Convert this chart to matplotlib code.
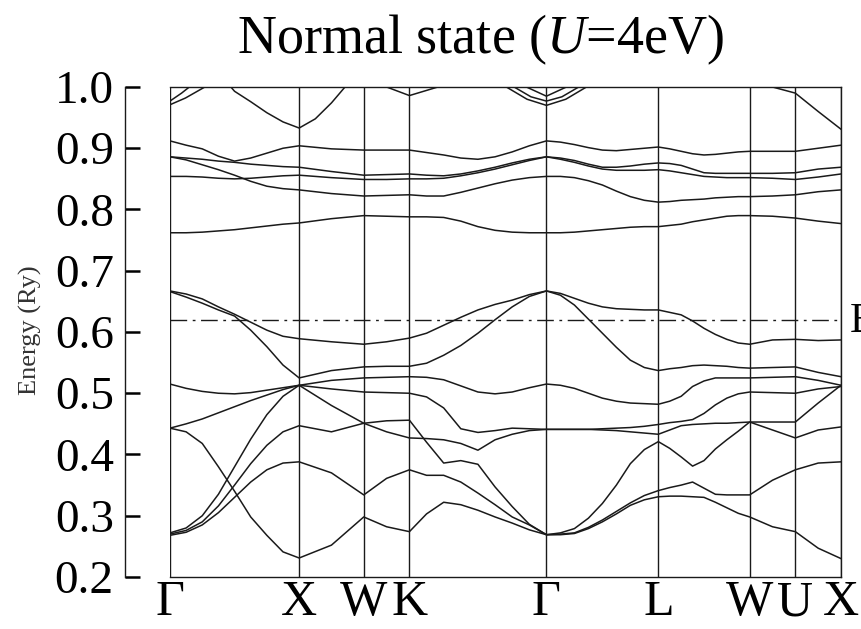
import numpy as np
import matplotlib.pyplot as plt

plt.rcParams['font.family'] = ['Liberation Serif', 'DejaVu Serif']
plt.rcParams['mathtext.fontset'] = 'custom'
plt.rcParams['mathtext.rm'] = 'Liberation Serif'
plt.rcParams['mathtext.it'] = 'Liberation Serif:italic'

# high-symmetry points along the fcc path
sym_k = [0.0, 1.0, 1.5, 1.8536, 2.9142, 3.7802, 4.4873, 4.8409, 5.1945]
sym_labels = ['Γ', 'X', 'W', 'K', 'Γ', 'L', 'W', 'U', 'X']
e_fermi = 0.62

kpath = [0.0, 0.125, 0.25, 0.375, 0.5, 0.625, 0.75, 0.875, 1.0,
         1.25, 1.5,
         1.6768, 1.8536,
         1.9862, 2.1188, 2.2514, 2.3839, 2.5165, 2.6491, 2.7817, 2.9142,
         3.0225, 3.1307, 3.2390, 3.3472, 3.4555, 3.5637, 3.6720, 3.7802,
         3.8686, 3.9570, 4.0454, 4.1338, 4.2221, 4.3105, 4.3989, 4.4873,
         4.6641, 4.8409,
         5.0177, 5.1945]

# band energies (Ry), one value per k point above
band_1 = [0.443, 0.437, 0.418, 0.380, 0.340, 0.298, 0.268, 0.241, 0.231,
          0.252, 0.298,
          0.282, 0.274,
          0.303, 0.322, 0.318, 0.309, 0.298, 0.288, 0.277, 0.269,
          0.269, 0.271, 0.279, 0.290, 0.303, 0.317, 0.326, 0.331,
          0.332, 0.332, 0.331, 0.330, 0.322, 0.313, 0.304, 0.298,
          0.282, 0.274,
          0.247, 0.230]
band_2 = [0.268, 0.273, 0.285, 0.305, 0.330, 0.355, 0.375, 0.386, 0.388,
          0.370, 0.334,
          0.361, 0.375,
          0.366, 0.366, 0.355, 0.337, 0.318, 0.298, 0.285, 0.269,
          0.270, 0.272, 0.281, 0.293, 0.307, 0.321, 0.333, 0.341,
          0.346, 0.350, 0.355, 0.345, 0.335, 0.334, 0.334, 0.334,
          0.358, 0.375,
          0.386, 0.388]
band_3 = [0.270, 0.276, 0.290, 0.316, 0.350, 0.385, 0.415, 0.437, 0.447,
          0.437, 0.451,
          0.455, 0.456,
          0.420, 0.386, 0.390, 0.384, 0.347, 0.315, 0.286, 0.269,
          0.272, 0.279, 0.296, 0.320, 0.350, 0.385, 0.408, 0.421,
          0.410, 0.396, 0.381, 0.390, 0.409, 0.424, 0.438, 0.453,
          0.440, 0.427,
          0.440, 0.445]
band_4 = [0.272, 0.280, 0.300, 0.335, 0.380, 0.425, 0.465, 0.495, 0.513,
          0.480, 0.451,
          0.437, 0.427,
          0.426, 0.424, 0.418, 0.407, 0.424, 0.433, 0.439, 0.441,
          0.441, 0.441, 0.441, 0.440, 0.439, 0.437, 0.435, 0.433,
          0.440, 0.447, 0.449, 0.450, 0.451, 0.451, 0.452, 0.453,
          0.453, 0.453,
          0.484, 0.513]
band_5 = [0.443, 0.450, 0.458, 0.468, 0.478, 0.488, 0.497, 0.506, 0.513,
          0.507, 0.502,
          0.501, 0.500,
          0.494, 0.476, 0.442, 0.436, 0.439, 0.443, 0.442, 0.441,
          0.441, 0.441, 0.441, 0.442, 0.443, 0.444, 0.446, 0.449,
          0.452, 0.454, 0.457, 0.467, 0.481, 0.492, 0.499, 0.502,
          0.501, 0.500,
          0.507, 0.511]
band_6 = [0.515, 0.508, 0.503, 0.500, 0.499, 0.501, 0.505, 0.509, 0.513,
          0.521, 0.525,
          0.526, 0.527,
          0.526, 0.522, 0.512, 0.502, 0.499, 0.502, 0.509, 0.515,
          0.513, 0.508, 0.500, 0.492, 0.487, 0.484, 0.483, 0.482,
          0.487, 0.495, 0.511, 0.520, 0.525, 0.525, 0.525, 0.525,
          0.526, 0.527,
          0.521, 0.513]
band_7 = [0.666, 0.657, 0.647, 0.636, 0.626, 0.603, 0.576, 0.546, 0.525,
          0.537, 0.543,
          0.544, 0.544,
          0.549, 0.562, 0.578, 0.598, 0.620, 0.641, 0.658, 0.667,
          0.660, 0.644, 0.621, 0.598, 0.575, 0.554, 0.542, 0.537,
          0.540, 0.542, 0.545, 0.546, 0.545, 0.544, 0.542, 0.541,
          0.542, 0.543,
          0.534, 0.527]
band_8 = [0.667, 0.662, 0.654, 0.641, 0.629, 0.616, 0.603, 0.593, 0.589,
          0.584, 0.580,
          0.584, 0.590,
          0.598, 0.611, 0.624, 0.636, 0.645, 0.652, 0.661, 0.667,
          0.663, 0.655, 0.647, 0.641, 0.638, 0.637, 0.636, 0.636,
          0.632, 0.628, 0.618, 0.606, 0.596, 0.588, 0.582, 0.580,
          0.587, 0.588,
          0.586, 0.587]
band_9 = [0.762, 0.762, 0.763, 0.765, 0.767, 0.770, 0.773, 0.776, 0.778,
          0.785, 0.790,
          0.789, 0.788,
          0.788, 0.787, 0.781, 0.772, 0.766, 0.763, 0.762, 0.762,
          0.762, 0.763, 0.765, 0.767, 0.769, 0.771, 0.772, 0.772,
          0.774, 0.776, 0.780, 0.783, 0.786, 0.789, 0.790, 0.790,
          0.789, 0.786,
          0.781, 0.777]
band_10 = [0.854, 0.854, 0.853, 0.851, 0.850, 0.851, 0.853, 0.855, 0.856,
           0.852, 0.849,
           0.849, 0.850,
           0.850, 0.851, 0.855, 0.860, 0.866, 0.873, 0.880, 0.886,
           0.882, 0.877, 0.871, 0.866, 0.864, 0.864, 0.864, 0.865,
           0.863, 0.860, 0.857, 0.854, 0.853, 0.852, 0.852, 0.852,
           0.851, 0.849,
           0.853, 0.858]
band_11 = [0.886, 0.881, 0.873, 0.865, 0.856, 0.846, 0.838, 0.834, 0.832,
           0.826, 0.822,
           0.823, 0.824,
           0.822, 0.822, 0.828, 0.835, 0.842, 0.848, 0.852, 0.854,
           0.854, 0.852, 0.847, 0.840, 0.830, 0.821, 0.815, 0.812,
           0.813, 0.815, 0.816, 0.817, 0.819, 0.820, 0.821, 0.821,
           0.822, 0.824,
           0.829, 0.832]
band_12 = [0.886, 0.884, 0.882, 0.879, 0.877, 0.874, 0.872, 0.870, 0.869,
           0.862, 0.856,
           0.857, 0.858,
           0.856, 0.855, 0.858, 0.863, 0.869, 0.876, 0.882, 0.886,
           0.884, 0.880, 0.874, 0.869, 0.869, 0.871, 0.874, 0.876,
           0.875, 0.872, 0.866, 0.860, 0.859, 0.859, 0.859, 0.859,
           0.859, 0.860,
           0.866, 0.869]
band_13 = [0.912, 0.905, 0.899, 0.887, 0.879, 0.884, 0.892, 0.900, 0.904,
           0.899, 0.897,
           0.897, 0.897,
           0.893, 0.889, 0.884, 0.882, 0.886, 0.894, 0.904, 0.912,
           0.910, 0.906, 0.901, 0.897, 0.896, 0.898, 0.900, 0.902,
           0.899, 0.895, 0.891, 0.889, 0.890, 0.892, 0.894, 0.895,
           0.895, 0.895,
           0.900, 0.905]
bands = [band_1, band_2, band_3, band_4, band_5, band_6, band_7,
         band_8, band_9, band_10, band_11, band_12, band_13]

# pieces of the bands that run off the top of the window
top_k = [[0.35, 0.5, 0.625, 0.75, 0.875, 1.0, 1.125, 1.25, 1.355, 1.45],
         [4.60, 4.664, 4.8409, 5.0177, 5.1945],
         [1.60, 1.677, 1.8536, 2.074, 2.15],
         [0.0, 0.12, 0.27, 0.40],
         [0.0, 0.09, 0.15, 0.25],
         [2.494, 2.604, 2.764, 2.914, 3.064, 3.224, 3.334],
         [2.584, 2.664, 2.794, 2.914, 3.034, 3.164, 3.244],
         [2.694, 2.759, 2.914, 3.069, 3.134]]
top_e = [[1.03, 0.993, 0.976, 0.958, 0.943, 0.933, 0.948, 0.974, 1.0, 1.03],
         [1.01, 1.0, 0.990, 0.960, 0.931],
         [1.01, 1.0, 0.986, 1.0, 1.005],
         [0.971, 0.982, 1.0, 1.03],
         [0.977, 0.990, 1.0, 1.03],
         [1.03, 1.0, 0.980, 0.970, 0.980, 1.0, 1.03],
         [1.03, 1.0, 0.984, 0.977, 0.984, 1.0, 1.03],
         [1.03, 1.0, 0.985, 1.0, 1.03]]

line_col = '#1a1a1a'

fig = plt.figure(figsize=(8.61, 6.29), dpi=100)
ax = fig.add_axes([0.1974, 0.0827, 0.7794, 0.7790])

for e in bands:
    ax.plot(kpath, e, color=line_col, lw=1.1, solid_joinstyle='round')
for k, e in zip(top_k, top_e):
    ax.plot(k, e, color=line_col, lw=1.1, solid_joinstyle='round')

for k in sym_k:
    ax.axvline(k, color=line_col, lw=1.0)
ax.axhline(e_fermi, color=line_col, lw=1.0, dashes=(12, 4, 2, 4))

ax.set_xlim(sym_k[0], sym_k[-1])
ax.set_ylim(0.2, 1.0)
ax.set_xticks(sym_k)
ax.set_xticklabels(sym_labels, fontsize=36)
ax.tick_params(axis='x', length=0, pad=2)
ax.set_yticks([0.2, 0.3, 0.4, 0.5, 0.6, 0.7, 0.8, 0.9, 1.0])
ax.set_yticklabels(['0.2', '0.3', '0.4', '0.5', '0.6', '0.7', '0.8', '0.9', '1.0'])
ax.tick_params(axis='y', direction='in', length=11, width=1.8,
               labelsize=34, pad=8)
ax.spines['left'].set_position(('outward', 32.4))
for s in ax.spines.values():
    s.set_linewidth(1.0)
    s.set_color(line_col)

fig.text(30 / 861, 1 - 330 / 629, 'Energy (Ry)', rotation=90,
         ha='center', va='center', fontsize=19, color='#333333')
fig.text(481 / 861, 1 - 40 / 629, r'Normal state ($\mathit{U}$=4eV)',
         ha='center', va='center', fontsize=39)
fig.text(849 / 861, 1 - 322 / 629, r'E$_\mathrm{F}$',
         ha='left', va='center', fontsize=30)

fig.savefig('out.png', dpi=100)
